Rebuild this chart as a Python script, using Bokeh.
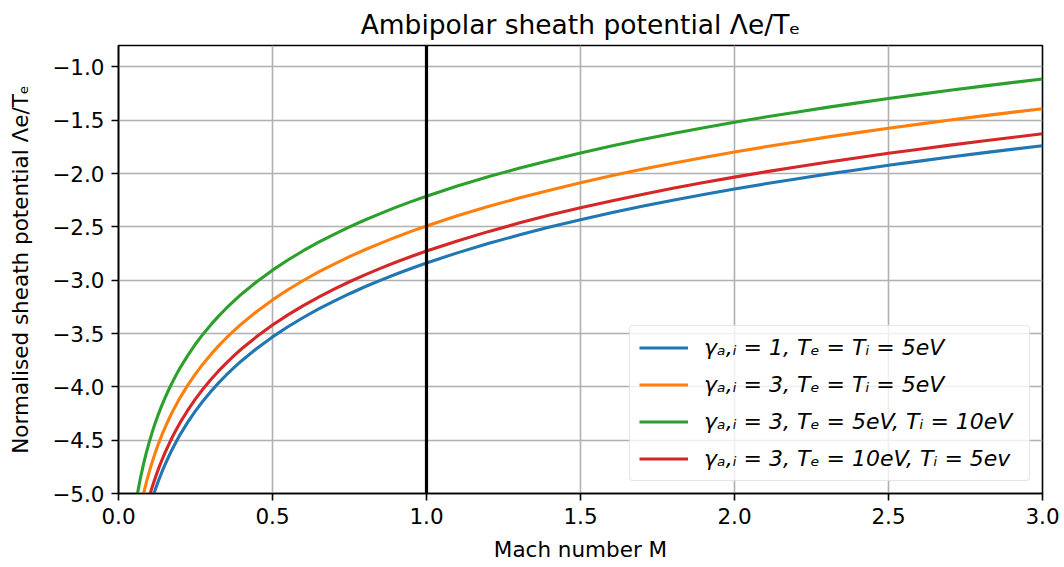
from bokeh.plotting import figure
from bokeh.models import ColumnDataSource, Span, Legend, LegendItem, FixedTicker, Range1d
from bokeh.embed import file_html
from bokeh.resources import INLINE

# ---- data ----
mach = [0.05, 0.06, 0.07, 0.08, 0.09, 0.10, 0.11, 0.12, 0.13, 0.14, 0.15, 0.16, 0.17, 0.18, 0.19, 0.20,
        0.225, 0.25, 0.275, 0.30, 0.325, 0.35, 0.375, 0.40,
        0.45, 0.50, 0.55, 0.60, 0.65, 0.70, 0.75, 0.80, 0.85, 0.90, 0.95, 1.0,
        1.1, 1.2, 1.3, 1.4, 1.5, 1.6, 1.7, 1.8, 1.9, 2.0,
        2.1, 2.2, 2.3, 2.4, 2.5, 2.6, 2.7, 2.8, 2.9, 3.0]

blue_g1_TeTi5 = [-5.835, -5.652, -5.498, -5.365, -5.247, -5.142, -5.046, -4.959, -4.879, -4.805,
                 -4.736, -4.672, -4.611, -4.554, -4.500, -4.448,
                 -4.331, -4.225, -4.130, -4.043, -3.963, -3.889, -3.820, -3.755,
                 -3.638, -3.532, -3.437, -3.350, -3.270, -3.196, -3.127, -3.062, -3.002, -2.944, -2.890, -2.839,
                 -2.744, -2.657, -2.577, -2.502, -2.434, -2.369, -2.308, -2.251, -2.197, -2.146,
                 -2.097, -2.051, -2.006, -1.964, -1.923, -1.884, -1.846, -1.809, -1.774, -1.740]
orange_g3_TeTi5 = [-5.488, -5.305, -5.151, -5.018, -4.900, -4.795, -4.699, -4.612, -4.532, -4.458,
                   -4.389, -4.325, -4.264, -4.207, -4.153, -4.101,
                   -3.984, -3.878, -3.783, -3.696, -3.616, -3.542, -3.473, -3.408,
                   -3.291, -3.185, -3.090, -3.003, -2.923, -2.849, -2.780, -2.715, -2.655, -2.597, -2.543, -2.492,
                   -2.397, -2.310, -2.230, -2.156, -2.087, -2.022, -1.961, -1.904, -1.850, -1.799,
                   -1.750, -1.704, -1.659, -1.617, -1.576, -1.537, -1.499, -1.462, -1.427, -1.393]
green_g3_Te5_Ti10 = [-5.209, -5.026, -4.872, -4.739, -4.621, -4.516, -4.420, -4.333, -4.253, -4.179,
                     -4.110, -4.046, -3.985, -3.928, -3.874, -3.822,
                     -3.705, -3.599, -3.504, -3.417, -3.337, -3.263, -3.194, -3.129,
                     -3.012, -2.906, -2.811, -2.724, -2.644, -2.570, -2.501, -2.436, -2.376, -2.318, -2.264, -2.213,
                     -2.118, -2.031, -1.951, -1.877, -1.808, -1.743, -1.682, -1.625, -1.571, -1.520,
                     -1.471, -1.425, -1.380, -1.338, -1.297, -1.258, -1.220, -1.183, -1.148, -1.114]
red_g3_Te10_Ti5 = [-5.723, -5.540, -5.386, -5.253, -5.135, -5.030, -4.934, -4.847, -4.767, -4.693,
                   -4.624, -4.560, -4.499, -4.442, -4.388, -4.336,
                   -4.219, -4.113, -4.018, -3.931, -3.851, -3.777, -3.708, -3.643,
                   -3.526, -3.420, -3.325, -3.238, -3.158, -3.084, -3.015, -2.950, -2.890, -2.832, -2.778, -2.727,
                   -2.632, -2.545, -2.465, -2.390, -2.322, -2.257, -2.196, -2.139, -2.085, -2.034,
                   -1.985, -1.939, -1.894, -1.852, -1.811, -1.772, -1.734, -1.697, -1.662, -1.628]

series_labels = [
    "γₐ,ᵢ = 1, Tₑ = Tᵢ = 5eV",
    "γₐ,ᵢ = 3, Tₑ = Tᵢ = 5eV",
    "γₐ,ᵢ = 3, Tₑ = 5eV, Tᵢ = 10eV",
    "γₐ,ᵢ = 3, Tₑ = 10eV, Tᵢ = 5ev",
]
series_colors = ["#1f77b4", "#ff7f0e", "#2ca02c", "#d62728"]

mach_marker = 1.0

x_ticks = [0.0, 0.5, 1.0, 1.5, 2.0, 2.5, 3.0]
x_tick_labels = ["0.0", "0.5", "1.0", "1.5", "2.0", "2.5", "3.0"]
y_ticks = [-5.0, -4.5, -4.0, -3.5, -3.0, -2.5, -2.0, -1.5, -1.0]
y_tick_labels = ["−5.0", "−4.5", "−4.0", "−3.5", "−3.0", "−2.5", "−2.0", "−1.5", "−1.0"]

title_text = "Ambipolar sheath potential Λe/Tₑ"
x_label = "Mach number M"
y_label = "Normalised sheath potential Λe/Tₑ"

FONT = "DejaVu Sans"

p = figure(width=1064, height=567, output_backend="svg", toolbar_location=None,
           x_range=Range1d(0.0, 3.0), y_range=Range1d(-5.0, -0.80),
           min_border_left=118, min_border_right=22, min_border_top=43, min_border_bottom=74)

p.title.text = title_text
p.title.text_font = FONT
p.title.text_font_size = "26.5px"
p.title.text_font_style = "normal"
p.title.align = "center"
p.title.text_color = "black"
p.title.standoff = 12

p.background_fill_color = "white"
p.border_fill_color = "white"
p.outline_line_color = "black"
p.outline_line_width = 1.6

for ax in (p.xaxis[0], p.yaxis[0]):
    ax.major_label_text_font = FONT
    ax.major_label_text_font_size = "21.5px"
    ax.major_label_text_color = "black"
    ax.axis_label_text_font = FONT
    ax.axis_label_text_font_size = "21.5px"
    ax.axis_label_text_font_style = "normal"
    ax.axis_label_text_color = "black"
    ax.axis_line_color = "black"
    ax.axis_line_width = 1.6
    ax.major_tick_line_color = "black"
    ax.major_tick_line_width = 1.6
    ax.major_tick_out = 7
    ax.major_tick_in = 0
    ax.minor_tick_line_color = None
    ax.major_label_standoff = 7

p.xaxis[0].ticker = FixedTicker(ticks=x_ticks)
p.xaxis[0].major_label_overrides = {t: l for t, l in zip(x_ticks, x_tick_labels)}
p.yaxis[0].ticker = FixedTicker(ticks=y_ticks)
p.yaxis[0].major_label_overrides = {t: l for t, l in zip(y_ticks, y_tick_labels)}
p.xaxis[0].axis_label = x_label
p.yaxis[0].axis_label = y_label
p.xaxis[0].axis_label_standoff = 10
p.yaxis[0].axis_label_standoff = 16

p.xgrid.grid_line_color = "#b0b0b0"
p.ygrid.grid_line_color = "#b0b0b0"
p.xgrid.grid_line_width = 1.6
p.ygrid.grid_line_width = 1.6

series = [blue_g1_TeTi5, orange_g3_TeTi5, green_g3_Te5_Ti10, red_g3_Te10_Ti5]
items = []
for ys, lab, col in zip(series, series_labels, series_colors):
    src = ColumnDataSource(dict(x=mach, y=ys))
    r = p.line("x", "y", source=src, line_color=col, line_width=3.1, line_join="round")
    items.append(LegendItem(label=lab, renderers=[r]))

p.add_layout(Span(location=mach_marker, dimension="height", line_color="black", line_width=3.2))

legend = Legend(items=items, location="bottom_right")
legend.label_text_font = FONT
legend.label_text_font_size = "22px"
legend.label_text_font_style = "italic"
legend.label_text_color = "black"
legend.glyph_width = 49
legend.glyph_height = 25
legend.label_height = 25
legend.label_width = 316
legend.label_standoff = 16
legend.spacing = 12
legend.padding = 9
legend.margin = 12
legend.background_fill_color = "white"
legend.background_fill_alpha = 0.8
legend.border_line_color = "#cccccc"
legend.border_line_width = 1.5
if "border_radius" in Legend.properties():
    legend.border_radius = 4
p.add_layout(legend)

open("out.html", "w").write(file_html(p, INLINE))
